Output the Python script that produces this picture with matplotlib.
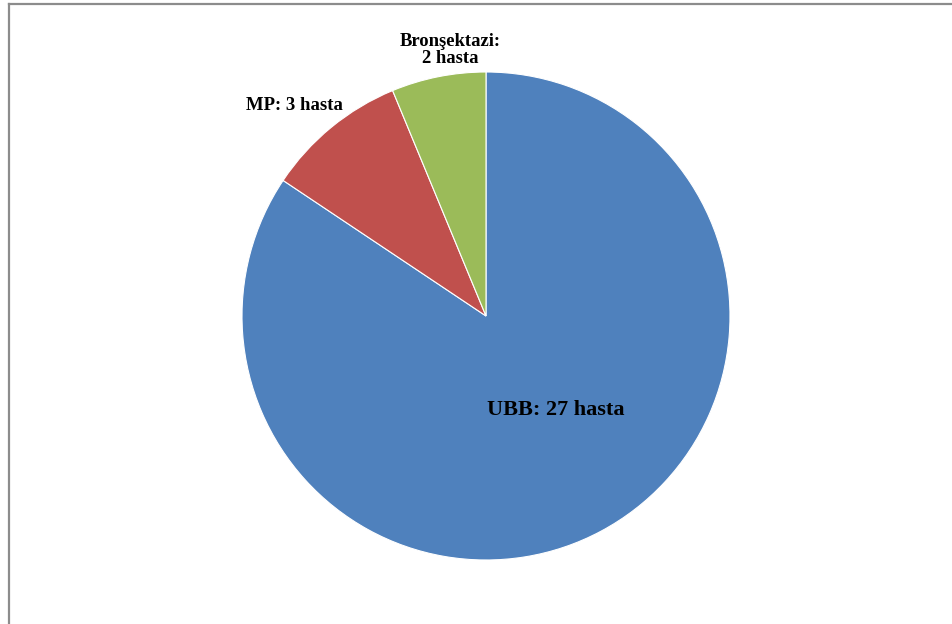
import matplotlib.pyplot as plt
from matplotlib.lines import Line2D

# Hasta sayilari
etiketler = ["UBB: 27 hasta", "MP: 3 hasta", "Bronşektazi:\n2 hasta"]
hasta = [27, 3, 2]
renkler = ["#4F81BD", "#C0504D", "#9BBB59"]

W, H = 952, 624
fig = plt.figure(figsize=(W / 100, H / 100), dpi=100)
fig.patch.set_facecolor("white")

# cerceve (ust ve sol kenar)
fig.add_artist(Line2D([8.5 / W, 1.0], [1 - 3.5 / H, 1 - 3.5 / H], color="#8c8c8c", lw=1.6))
fig.add_artist(Line2D([8.5 / W, 8.5 / W], [0, 1 - 3.5 / H], color="#8c8c8c", lw=1.6))

cx, cy, r = 486, 316, 244
ax = fig.add_axes([(cx - r) / W, (H - cy - r) / H, 2 * r / W, 2 * r / H])
ax.pie(hasta, colors=renkler, startangle=90, counterclock=False,
       wedgeprops=dict(edgecolor="white", linewidth=0.8))
ax.set_xlim(-1, 1)
ax.set_ylim(-1, 1)
ax.axis("off")

def px(x, y):
    return (x - cx) / r, (cy - y) / r

konum = [px(556, 410), px(294, 106), px(450, 50)]
boyut = [16, 13.5, 13.4]
for et, (x, y), s in zip(etiketler, konum, boyut):
    ax.text(x, y, et, ha="center", va="center", fontsize=s, fontweight="bold",
            family="Liberation Serif", linespacing=1.05)

fig.savefig("out.png", dpi=100)
